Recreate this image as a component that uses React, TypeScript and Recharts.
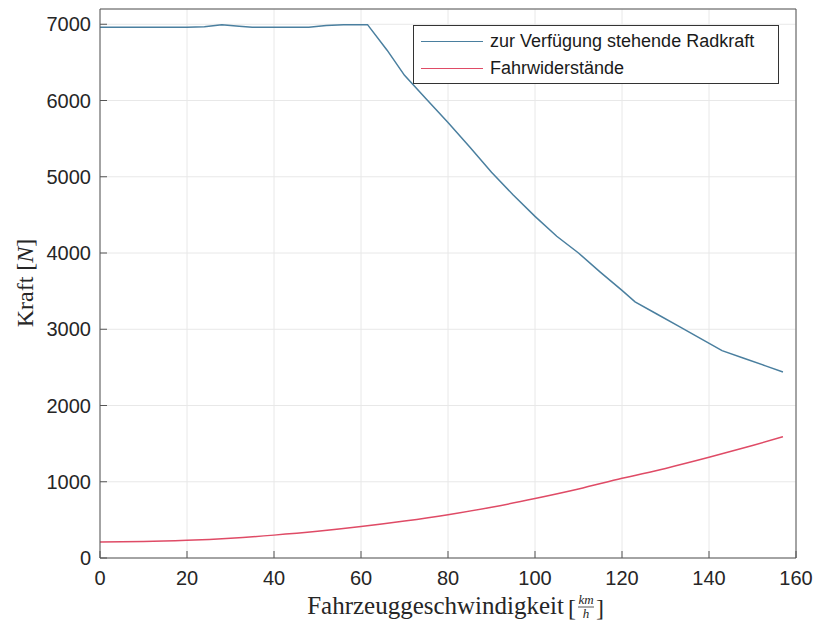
import { LineChart, Line, XAxis, YAxis, CartesianGrid } from 'recharts'

// Geschwindigkeit [km/h] und verfügbare Radkraft [N]
const radSpeed = [
  0, 10, 20, 24, 28, 32, 35, 40, 48, 52, 56, 61.5, 66, 70, 75, 80, 85, 90, 95,
  100, 105, 110, 115, 120, 123, 128, 133, 138, 143, 148, 153, 157,
]
const radForce = [
  6960, 6960, 6960, 6968, 6992, 6975, 6960, 6960, 6960, 6985, 6995, 6995, 6660,
  6330, 6020, 5710, 5390, 5060, 4760, 4480, 4220, 4000, 3750, 3510, 3360, 3200,
  3040, 2880, 2720, 2620, 2520, 2440,
]

// Fahrwiderstände [N]
const widerSpeed = [0, 10, 20, 30, 40, 50, 60, 70, 80, 90, 100, 110, 120, 130, 140, 150, 157]
const widerForce = [
  210, 215, 232, 260, 300, 350, 412, 485, 568, 665, 780, 905, 1045, 1175, 1320,
  1475, 1590,
]

const xTicks = [0, 20, 40, 60, 80, 100, 120, 140, 160]
const yTicks = [0, 1000, 2000, 3000, 4000, 5000, 6000, 7000]

const radData = radSpeed.map((v, i) => ({ v, force: radForce[i] }))
const widerData = widerSpeed.map((v, i) => ({ v, force: widerForce[i] }))

const series = [
  { name: 'zur Verfügung stehende Radkraft', color: '#4a7f9f' },
  { name: 'Fahrwiderstände', color: '#df4b66' },
]

const tickFont = { fontFamily: 'Liberation Sans, Arial, sans-serif', fontSize: 20, fill: '#262626' }
const serif = 'Liberation Serif, DejaVu Serif, serif'
const axisColor = '#555555'
const tickLen = 7

const BottomTick = (props: any) => {
  const { x, y, payload } = props
  return (
    <g>
      <line x1={x} x2={x} y1={y} y2={y - tickLen} stroke={axisColor} />
      <text x={x} y={y + 27} textAnchor="middle" {...tickFont}>
        {payload.value}
      </text>
    </g>
  )
}

const TopTick = (props: any) => {
  const { x, y } = props
  return <line x1={x} x2={x} y1={y} y2={y + tickLen} stroke={axisColor} />
}

const LeftTick = (props: any) => {
  const { x, y, payload } = props
  return (
    <g>
      <line x1={x} x2={x + tickLen} y1={y} y2={y} stroke={axisColor} />
      <text x={x - 9} y={y + 7} textAnchor="end" {...tickFont}>
        {payload.value}
      </text>
    </g>
  )
}

const RightTick = (props: any) => {
  const { x, y } = props
  return <line x1={x} x2={x - tickLen} y1={y} y2={y} stroke={axisColor} />
}

// Achsentitel mit Bruch km/h
const XTitle = (props: any) => {
  const { viewBox } = props
  const cx = viewBox.x + viewBox.width / 2
  const base = viewBox.y + 56
  return (
    <g fontFamily={serif} fill="#262626">
      <text x={cx + 116} y={base} textAnchor="end" fontSize={25}>
        Fahrzeuggeschwindigkeit
      </text>
      <text x={cx + 120} y={base + 2} fontSize={24}>[</text>
      <text x={cx + 138} y={base - 10} textAnchor="middle" fontSize={13} fontStyle="italic">
        km
      </text>
      <line x1={cx + 130} x2={cx + 146} y1={base - 7} y2={base - 7} stroke="#262626" strokeWidth={0.8} />
      <text x={cx + 138} y={base + 4} textAnchor="middle" fontSize={13} fontStyle="italic">
        h
      </text>
      <text x={cx + 148} y={base + 2} fontSize={24}>]</text>
    </g>
  )
}

const YTitle = () => (
  <text
    x={0}
    y={0}
    transform="translate(33 283) rotate(-90)"
    textAnchor="middle"
    fontFamily={serif}
    fontSize={24}
    fill="#262626"
  >
    Kraft [<tspan fontStyle="italic">N</tspan>]
  </text>
)

// Legende als Overlay, damit sie keinen Platz im Diagramm reserviert
const LegendBox = () => (
  <div
    style={{
      position: 'absolute',
      left: 413,
      top: 25,
      width: 364,
      height: 57,
      border: '1px solid #333',
      background: '#fff',
      fontFamily: 'Liberation Sans, Arial, sans-serif',
      fontSize: 18,
      color: '#1a1a1a',
    }}
  >
    {series.map((s, i) => (
      <div
        key={s.name}
        style={{ display: 'flex', alignItems: 'center', height: 27, marginTop: i === 0 ? 2 : 0 }}
      >
        <div style={{ width: 62, height: 1.5, background: s.color, marginLeft: 7, marginRight: 7 }} />
        <span>{s.name}</span>
      </div>
    ))}
  </div>
)

const App = () => {
  return (
    <div style={{ position: 'absolute', left: 0, top: 0, width: 815, height: 623 }}>
      <LineChart
        width={815}
        height={623}
        margin={{ top: 0, right: 0, left: 0, bottom: 0 }}
        style={{ background: '#fff' }}
      >
        <CartesianGrid stroke="#e8e8e8" xAxisId="b" yAxisId="l" />
        <XAxis
          xAxisId="b"
          dataKey="v"
          type="number"
          domain={[0, 160]}
          ticks={xTicks}
          height={65}
          tickSize={0}
          tickMargin={0}
          tickLine={false}
          stroke={axisColor}
          tick={<BottomTick />}
          label={<XTitle />}
          allowDataOverflow
        />
        <XAxis
          xAxisId="t"
          orientation="top"
          dataKey="v"
          type="number"
          domain={[0, 160]}
          ticks={xTicks}
          height={9}
          tickSize={0}
          tickMargin={0}
          tickLine={false}
          stroke={axisColor}
          tick={<TopTick />}
        />
        <YAxis
          yAxisId="l"
          type="number"
          domain={[0, 7200]}
          ticks={yTicks}
          width={100}
          tickSize={0}
          tickMargin={0}
          tickLine={false}
          stroke={axisColor}
          tick={<LeftTick />}
          label={<YTitle />}
          allowDataOverflow
        />
        <YAxis
          yAxisId="r"
          orientation="right"
          type="number"
          domain={[0, 7200]}
          ticks={yTicks}
          width={19}
          tickSize={0}
          tickMargin={0}
          tickLine={false}
          stroke={axisColor}
          tick={<RightTick />}
        />
        <Line
          xAxisId="b"
          yAxisId="l"
          data={radData}
          dataKey="force"
          name={series[0].name}
          type="linear"
          stroke={series[0].color}
          strokeWidth={1.5}
          dot={false}
          isAnimationActive={false}
        />
        <Line
          xAxisId="b"
          yAxisId="l"
          data={widerData}
          dataKey="force"
          name={series[1].name}
          type="monotone"
          stroke={series[1].color}
          strokeWidth={1.5}
          dot={false}
          isAnimationActive={false}
        />
      </LineChart>
      <LegendBox />
    </div>
  )
}

export default App
